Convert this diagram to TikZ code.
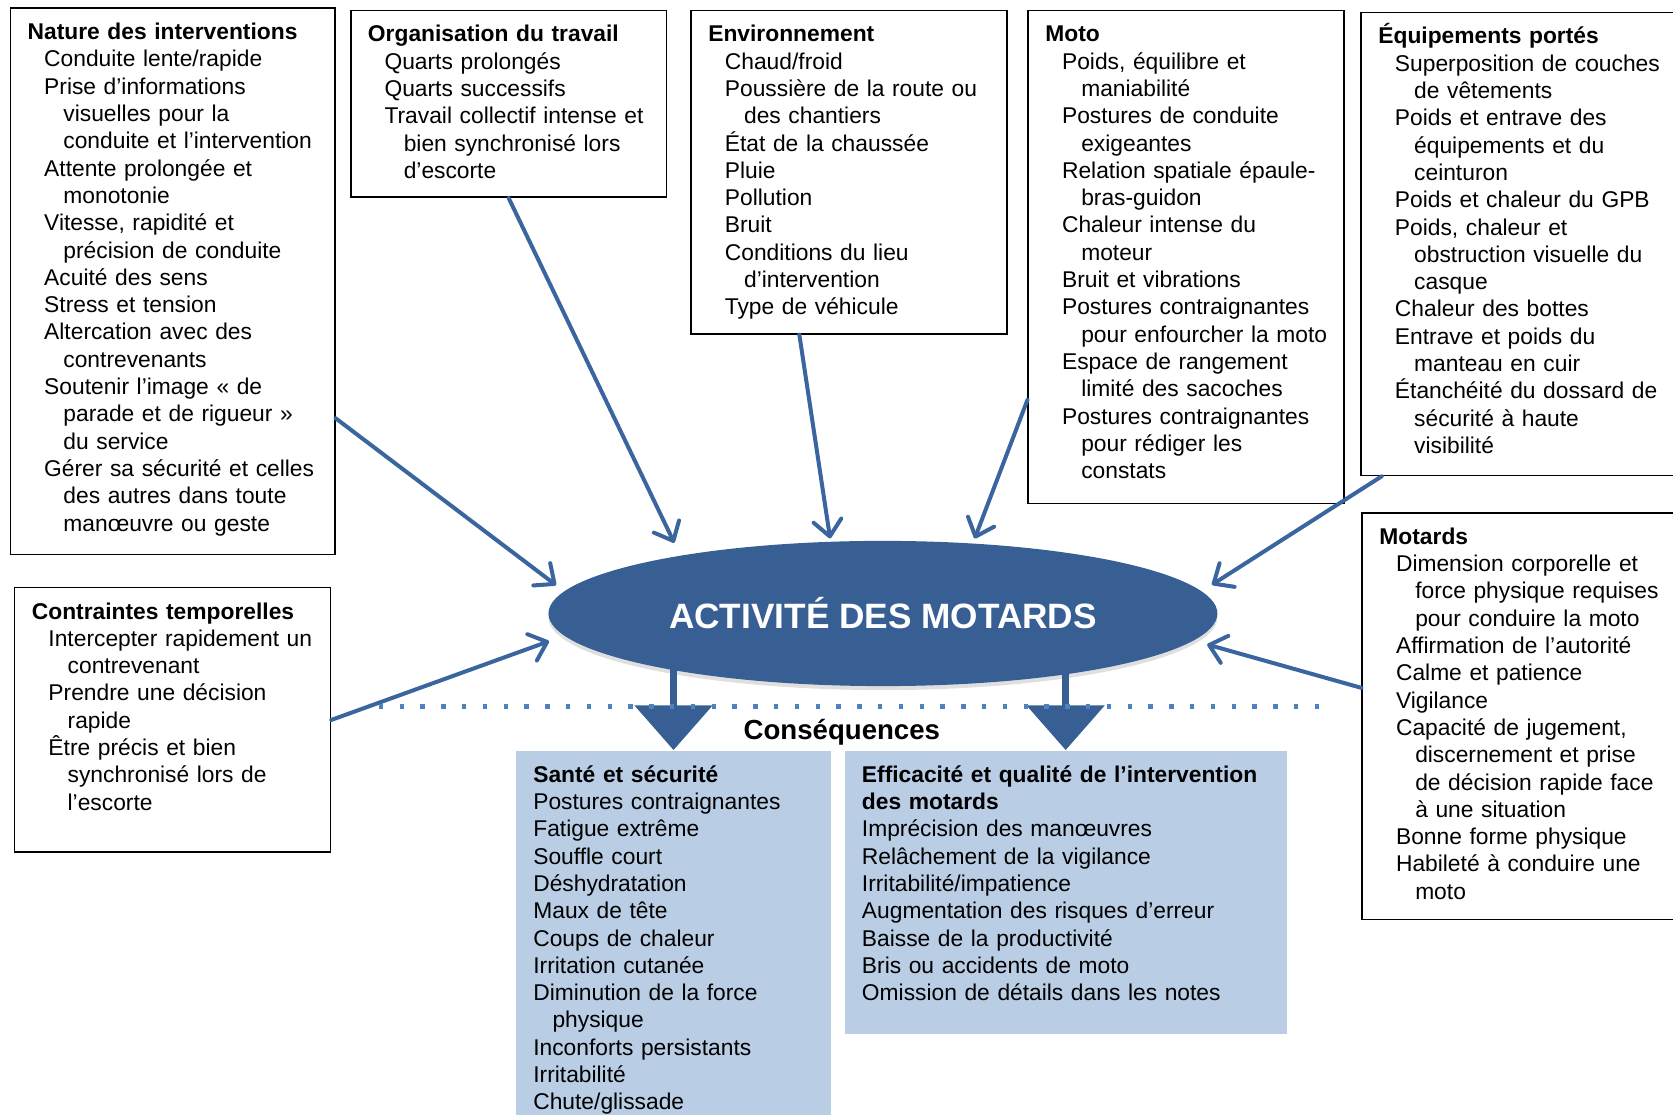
\documentclass[tikz,border=0pt]{standalone}
\usepackage{fontspec}
\setmainfont{Liberation Sans}
\usetikzlibrary{arrows.meta,shapes.geometric,shadows,calc}

\definecolor{actblue}{HTML}{375F93}
\definecolor{feedblue}{HTML}{3A659E}
\definecolor{dotblue}{HTML}{4F81BD}
\definecolor{resfill}{HTML}{B9CDE5}

\tikzstyle{infobox}=[draw, line width=0.8pt, anchor=north west, inner sep=0pt, text height=15.7pt, font=\fontsize{11.4}{13.65}\selectfont, execute at begin node={\leftskip=8.6pt\rightskip=0pt plus 1fil\parindent=0pt}]
\tikzstyle{resbox}=[infobox, draw=none, fill=resfill]
\tikzstyle{feed}=[draw=feedblue, line width=2pt, line cap=round, -{Straight Barb[length=8pt,width=14pt,round]}]
\tikzstyle{bigarrow}=[draw=actblue, line width=3.7pt, -{Triangle[width=38.4pt,length=22.4pt]}]
\tikzstyle{separator}=[draw=dotblue, line width=2.2pt, dash pattern=on 2.2pt off 8.2pt]

% item lines: first line indented, following lines indented further
\newcommand{\itm}[1]{\par\leftskip=26.5pt\leavevmode\hspace*{-9.6pt}#1\par}
\newcommand{\res}[1]{\par\leftskip=18.2pt\leavevmode\hspace*{-9.6pt}#1\par}

\begin{document}
\begin{tikzpicture}
\useasboundingbox (0,0) rectangle (29.4,-19.594);
\clip (0,0) rectangle (29.4,-19.594);

% factors, top row
\node[infobox, text width=162.2pt, text depth=257.5pt] (nature) at (0.169,-0.131) {\textbf{Nature des interventions}
  \itm{Conduite lente/rapide}
  \itm{Prise d’informations\\visuelles pour la\\conduite et l’intervention}
  \itm{Attente prolongée et\\monotonie}
  \itm{Vitesse, rapidité et\\précision de conduite}
  \itm{Acuité des sens}
  \itm{Stress et tension}
  \itm{Altercation avec des\\contrevenants}
  \itm{Soutenir l’image « de\\parade et de rigueur »\\du service}
  \itm{Gérer sa sécurité et celles\\des autres dans toute\\manœuvre ou geste}};

\node[infobox, text width=157.9pt, text depth=77.7pt] (org) at (6.150,-0.169) {\textbf{Organisation du travail}
  \itm{Quarts prolongés}
  \itm{Quarts successifs}
  \itm{Travail collectif intense et\\bien synchronisé lors\\d’escorte}};

\node[infobox, text width=157.9pt, text depth=146.0pt] (env) at (12.131,-0.169) {\textbf{Environnement}
  \itm{Chaud/froid}
  \itm{Poussière de la route ou\\des chantiers}
  \itm{État de la chaussée}
  \itm{Pluie}
  \itm{Pollution}
  \itm{Bruit}
  \itm{Conditions du lieu\\d’intervention}
  \itm{Type de véhicule}};

\node[infobox, text width=157.9pt, text depth=230.8pt] (moto) at (18.056,-0.169) {\textbf{Moto}
  \itm{Poids, équilibre et\\maniabilité}
  \itm{Postures de conduite\\exigeantes}
  \itm{Relation spatiale épaule-\\bras-guidon}
  \itm{Chaleur intense du\\moteur}
  \itm{Bruit et vibrations}
  \itm{Postures contraignantes\\pour enfourcher la moto}
  \itm{Espace de rangement\\limité des sacoches}
  \itm{Postures contraignantes\\pour rédiger les\\constats}};

\node[infobox, text width=160.1pt, text depth=215.8pt] (equip) at (23.906,-0.206) {\textbf{Équipements portés}
  \itm{Superposition de couches\\de vêtements}
  \itm{Poids et entrave des\\équipements et du\\ceinturon}
  \itm{Poids et chaleur du GPB}
  \itm{Poids, chaleur et\\obstruction visuelle du\\casque}
  \itm{Chaleur des bottes}
  \itm{Entrave et poids du\\manteau en cuir}
  \itm{Étanchéité du dossard de\\sécurité à haute\\visibilité}};

% factors, sides
\node[infobox, text width=160.1pt, text depth=187.6pt] (mot) at (23.925,-9.0) {\textbf{Motards}
  \itm{Dimension corporelle et\\force physique requises\\pour conduire la moto}
  \itm{Affirmation de l’autorité}
  \itm{Calme et patience}
  \itm{Vigilance}
  \itm{Capacité de jugement,\\discernement et prise\\de décision rapide face\\à une situation}
  \itm{Bonne forme physique}
  \itm{Habileté à conduire une\\moto}};

\node[infobox, text width=157.9pt, text depth=116.6pt] (tmp) at (0.244,-10.313) {\textbf{Contraintes temporelles}
  \itm{Intercepter rapidement un\\contrevenant}
  \itm{Prendre une décision\\rapide}
  \itm{Être précis et bien\\synchronisé lors de\\l’escorte}};

% activity
\node[ellipse, fill=actblue, minimum width=334.5pt, minimum height=72.6pt, inner sep=0pt, text=white, font=\fontsize{17.6}{20}\selectfont\bfseries, drop shadow={opacity=0.25, shadow xshift=0pt, shadow yshift=-2pt}] (act) at (15.516,-10.781) {ACTIVITÉ DES MOTARDS};

\foreach \source/\dest/\gap in {nature.-40.5/act.176/5pt, org.south/act.164.5/7pt, env.-107.6/act.126.5/1.5pt, moto.-138/act.38.2/2.5pt, equip.-121.9/act.4.7/6pt, mot.170.4/act.-5.1/7pt, tmp.east/act.184.5/8pt}
    \path[feed, shorten >=\gap] (\source) -- (\dest);

% consequences
\node[resbox, text width=157.4pt, text depth=177.4pt] (sante) at (9.056,-13.181) {\textbf{Santé et sécurité}
  \res{Postures contraignantes}
  \res{Fatigue extrême}
  \res{Souffle court}
  \res{Déshydratation}
  \res{Maux de tête}
  \res{Coups de chaleur}
  \res{Irritation cutanée}
  \res{Diminution de la force\\physique}
  \res{Inconforts persistants}
  \res{Irritabilité}
  \res{Chute/glissade}};

\node[resbox, text width=220.9pt, text depth=125.7pt] (eff) at (14.831,-13.181) {\textbf{Efficacité et qualité de l’intervention\\des motards}
  \res{Imprécision des manœuvres}
  \res{Relâchement de la vigilance}
  \res{Irritabilité/impatience}
  \res{Augmentation des risques d’erreur}
  \res{Baisse de la productivité}
  \res{Bris ou accidents de moto}
  \res{Omission de détails dans les notes}};

\foreach \dest in {sante, eff}
    \path[bigarrow] ($(\dest.north |- act.center)+(0,-0.6)$) -- (\dest.north);

\node[font=\fontsize{13.8}{16}\selectfont\bfseries] (csq) at (14.794,-12.863) {Conséquences};
\path[separator] (6.656,-12.413) -- (23.25,-12.413);

\end{tikzpicture}
\end{document}
